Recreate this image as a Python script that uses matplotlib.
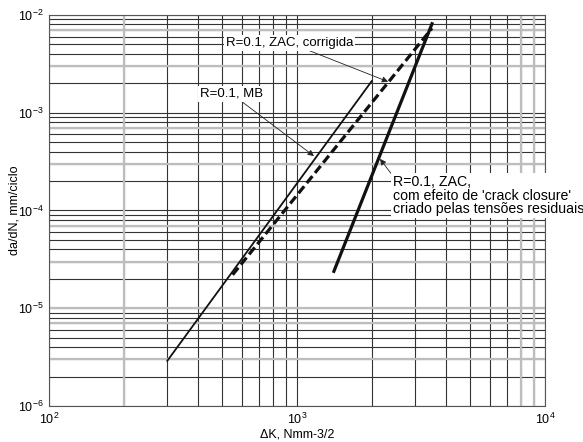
import numpy as np
import matplotlib.pyplot as plt
from matplotlib.ticker import LogLocator, LogFormatterMathtext, NullFormatter

plt.rcParams['font.family'] = ['Liberation Sans', 'DejaVu Sans']

# Paris-law lines (end points)
mb_dk = [300, 2000]
mb_dadn = [2.9e-6, 2.1e-3]

zac_corr_dk = [550, 3500]
zac_corr_dadn = [2.2e-5, 7.3e-3]

zac_dk = [1400, 3520]
zac_dadn = [2.3e-5, 8.4e-3]

# light grey grid lines in the scanned original
light_x = [200, 8000, 9000]
light_y = [3e-6, 7e-6, 1e-5, 3e-5, 7e-5, 3e-4, 7e-4, 3e-3, 7e-3]

fig = plt.figure(figsize=(5.83, 4.42), dpi=100)
ax = fig.add_axes([0.084, 0.0814, 0.851, 0.885])
ax.set_xscale('log')
ax.set_yscale('log')
ax.set_xlim(1e2, 1e4)
ax.set_ylim(1e-6, 1e-2)

ax.xaxis.set_major_locator(LogLocator(base=10))
ax.xaxis.set_minor_locator(LogLocator(base=10, subs=np.arange(2, 10)))
ax.yaxis.set_major_locator(LogLocator(base=10))
ax.yaxis.set_minor_locator(LogLocator(base=10, subs=np.arange(2, 10)))
ax.xaxis.set_major_formatter(LogFormatterMathtext())
ax.yaxis.set_major_formatter(LogFormatterMathtext())
ax.xaxis.set_minor_formatter(NullFormatter())
ax.yaxis.set_minor_formatter(NullFormatter())

ax.grid(which='both', color='#333333', lw=0.8)
for v in light_x:
    ax.axvline(v, color='#bdbdbd', lw=1.6, zorder=0.6)
for v in light_y:
    ax.axhline(v, color='#bdbdbd', lw=1.6, zorder=0.6)
ax.set_axisbelow(True)

ax.tick_params(which='both', length=0, labelsize=9, pad=4)
for s in ax.spines.values():
    s.set_color('#555555')
    s.set_linewidth(0.8)

ax.plot(mb_dk, mb_dadn, color='#111111', lw=1.3, zorder=3)
ax.plot(zac_corr_dk, zac_corr_dadn, color='#111111', lw=2.3,
        dashes=(2.8, 1.3), zorder=3)
ax.plot(zac_dk, zac_dadn, color='#111111', lw=2.3, solid_capstyle='butt', zorder=3)

box = dict(boxstyle='square,pad=0.15', fc='white', ec='none')
arr = dict(arrowstyle='-|>', color='#222222', lw=0.6, mutation_scale=9,
           shrinkA=0, shrinkB=0)

ax.annotate('R=0.1, ZAC, corrigida', xy=(2330, 2.07e-3), xytext=(1680, 4.5e-3),
            fontsize=9.5, ha='right', va='bottom', bbox=box, arrowprops=arr, zorder=4)
ax.annotate('R=0.1, MB', xy=(1170, 3.6e-4), xytext=(730, 1.35e-3),
            fontsize=9.5, ha='right', va='bottom', bbox=box, arrowprops=arr, zorder=4)
ax.annotate("R=0.1, ZAC,\ncom efeito de 'crack closure'\ncriado pelas tensões residuais",
            xy=(2160, 3.37e-4), xytext=(2440, 2.3e-4),
            fontsize=10.2, ha='left', va='top', linespacing=0.95,
            bbox=box, arrowprops=dict(arr, relpos=(0, 0.97)), zorder=4)

ax.set_xlabel('ΔK, Nmm-3/2', fontsize=9, labelpad=1)
ax.set_ylabel('da/dN, mm/ciclo', fontsize=9)
ax.yaxis.set_label_coords(-0.058, 0.5)

fig.savefig('out.png', dpi=100)
